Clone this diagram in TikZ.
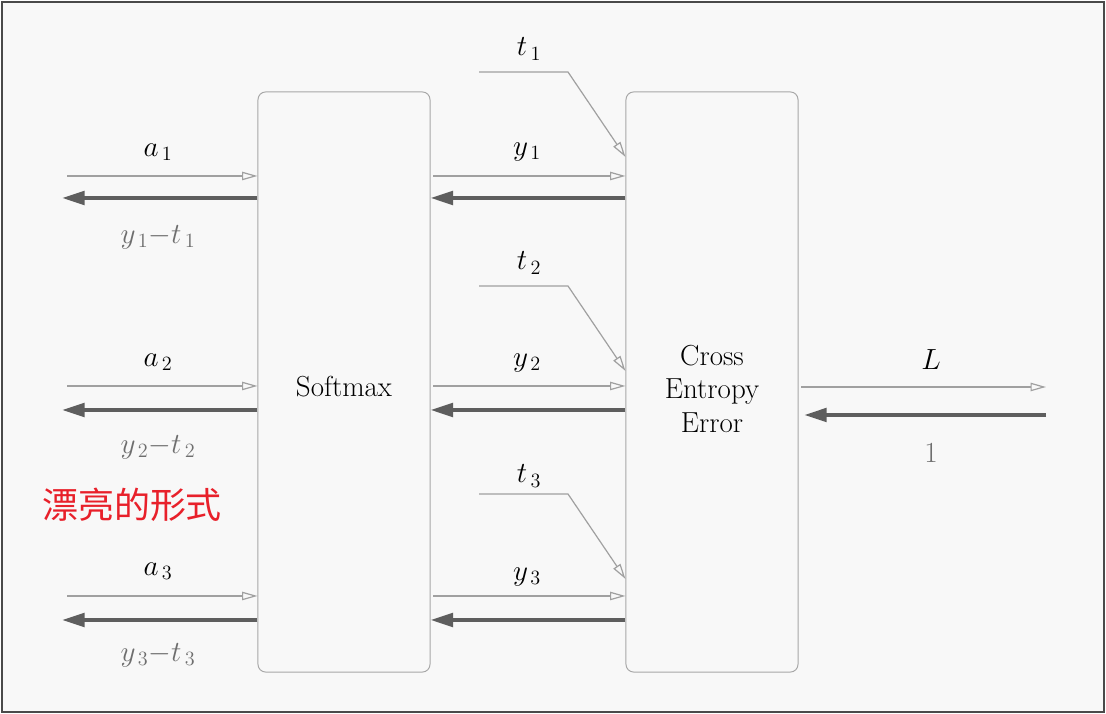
\documentclass[tikz,border=0pt]{standalone}
\usepackage{amsmath}
\usepackage{fontspec}
\newfontfamily\cjk{Noto Sans CJK SC}
\usetikzlibrary{arrows.meta}
\definecolor{framegray}{HTML}{4A4A4A}
\definecolor{bggray}{HTML}{F8F8F8}
\definecolor{boxgray}{HTML}{A8A8A8}
\definecolor{fwdgray}{HTML}{A0A0A0}
\definecolor{bwdgray}{HTML}{5E5E5E}
\definecolor{lblgray}{HTML}{6E6E6E}
\definecolor{cnred}{HTML}{E8202A}
\tikzset{
  blk/.style={draw=boxgray, line width=0.7pt, rounded corners=5.5pt,
    minimum width=4.3cm, minimum height=14.5cm, align=center,
    font=\fontsize{20.6}{23.5}\selectfont},
  fwd/.style={draw=fwdgray, line width=0.85pt, -{Triangle[open,length=11pt,width=6pt]}},
  bwd/.style={draw=bwdgray, line width=2.8pt, -{Triangle[length=16pt,width=9.5pt]}},
  lbl/.style={font=\fontsize{20.6}{24}\selectfont},
  glbl/.style={lbl, text=lblgray}
}
\begin{document}
\begin{tikzpicture}[x=0.025cm,y=0.025cm]
\useasboundingbox (0,0) rectangle (1106,714);
\draw[framegray, fill=bggray, line width=1pt] (2,2) rectangle (1104,712);
% the two blocks
\node[blk] (sm) at (344,332) {};
\node[blk] (cee) at (712,332) {};
\node[blk, draw=none, minimum width=0pt, minimum height=0pt] (smtxt) at (344,327) {Softmax};
\node[blk, draw=none, minimum width=0pt, minimum height=0pt] (ceetxt) at (712,325) {Cross\\Entropy\\Error};
% free ends
\coordinate (in1) at (67,538);
\coordinate (in2) at (67,328);
\coordinate (in3) at (67,118);
\coordinate (out1) at (62,516);
\coordinate (out2) at (62,304);
\coordinate (out3) at (62,94);
\coordinate (t1) at (479,642);
\coordinate (t2) at (479,428);
\coordinate (t3) at (479,220);
\coordinate (loss) at (1046,327);
\coordinate (one) at (1046,299);
% left side
\draw[fwd] (in1) -- (in1 -| sm.west);
\draw[bwd] (out1 -| sm.west) -- (out1);
\draw[fwd] (in2) -- (in2 -| sm.west);
\draw[bwd] (out2 -| sm.west) -- (out2);
\draw[fwd] (in3) -- (in3 -| sm.west);
\draw[bwd] (out3 -| sm.west) -- (out3);
\node[lbl] (la1) at (158,562) {$a_{\,1}$};
\node[glbl] (lb1) at (158,477) {$y_{\,1}{-}t_{\,1}$};
\node[lbl] (la2) at (158,352) {$a_{\,2}$};
\node[glbl] (lb2) at (158,267) {$y_{\,2}{-}t_{\,2}$};
\node[lbl] (la3) at (158,143) {$a_{\,3}$};
\node[glbl] (lb3) at (158,59) {$y_{\,3}{-}t_{\,3}$};
% between the blocks
\draw[fwd, shorten <=2pt] (sm.east |- in1) -- (cee.west |- in1);
\draw[bwd] (cee.west |- out1) -- (sm.east |- out1);
\draw[fwd, shorten <=2pt] (sm.east |- in2) -- (cee.west |- in2);
\draw[bwd] (cee.west |- out2) -- (sm.east |- out2);
\draw[fwd, shorten <=2pt] (sm.east |- in3) -- (cee.west |- in3);
\draw[bwd] (cee.west |- out3) -- (sm.east |- out3);
\node[lbl] (ly1) at (527,562) {$y_{\,1}$};
\node[lbl] (ly2) at (527,351) {$y_{\,2}$};
\node[lbl] (ly3) at (527,137) {$y_{\,3}$};
% teacher labels
\draw[fwd] (t1) -- (568,642) -- (cee.west |- 0,557);
\draw[fwd] (t2) -- (568,428) -- (cee.west |- 0,343);
\draw[fwd] (t3) -- (568,220) -- (cee.west |- 0,135);
\node[lbl] (lt1) at (529,665) {$t_{\,1}$};
\node[lbl] (lt2) at (529,451) {$t_{\,2}$};
\node[lbl] (lt3) at (529,238) {$t_{\,3}$};
% right side
\draw[fwd, shorten <=2pt] (cee.east |- loss) -- (loss);
\draw[bwd, shorten >=4pt] (one) -- (cee.east |- one);
\node[lbl] (lL) at (931,354) {$L$};
\node[glbl] (l1) at (931,261) {$1$};
\node[text=cnred, font=\cjk\fontsize{25.6}{30}\selectfont] (title) at (132,209) {漂亮的形式};
\end{tikzpicture}
\end{document}
